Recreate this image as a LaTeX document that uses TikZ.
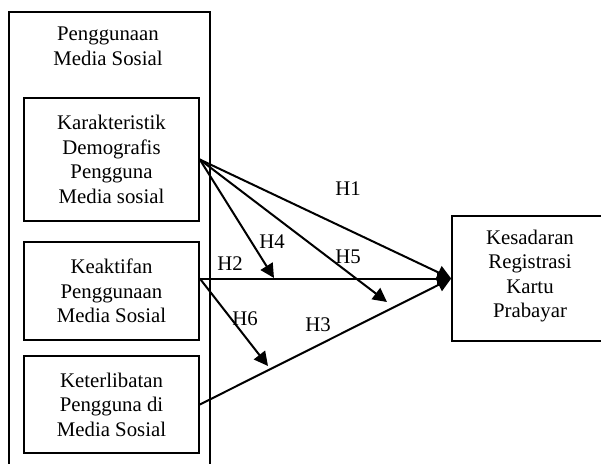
\documentclass[tikz,border=0pt]{standalone}
\usepackage{fontspec}
\setmainfont{Liberation Serif}
\usetikzlibrary{arrows.meta}

\tikzset{
	kotak/.style={draw, line width=0.8pt, align=center, inner sep=0pt},
	panah/.style={line width=1pt, -{Triangle[length=7pt, width=7pt]}},
	garis/.style={line width=1pt}
}

\begin{document}
\begin{tikzpicture}[x=0.5pt, y=-0.5pt]
	\fontsize{10.4}{12.3}\selectfont
	\clip (0, 0) rectangle (601, 463);
	
	% kotak luar
	\node [kotak, minimum width=100.5pt, minimum height=234pt] (luar) at (109.5, 246) {};
	\node [align=center] (judul) at (108, 46) {Penggunaan\\Media Sosial};
	
	\node [kotak, minimum width=87.5pt, minimum height=61.5pt] (k1) at (111.5, 159.5) {Karakteristik\\Demografis\\Pengguna\\Media sosial};
	\node [kotak, minimum width=87.5pt, minimum height=49pt] (k2) at (111.5, 291) {Keaktifan\\Penggunaan\\Media Sosial};
	\node [kotak, minimum width=87.5pt, minimum height=48.5pt] (k3) at (111.5, 404.5) {Keterlibatan\\Pengguna di\\Media Sosial};
	
	% kotak kanan, sisi kanannya di luar gambar
	\node [kotak, minimum width=95pt, minimum height=62.5pt] (ks) at (547, 278.5) {};
	\node [align=center] (kst) at (530, 276) {Kesadaran\\Registrasi\\Kartu\\Prabayar};
	
	\coordinate (k2a) at (k2.east |- ks.west);
	\coordinate (u4) at (274, 278);
	\coordinate (u5) at (387, 302);
	\coordinate (u6) at (268, 366);
	
	\draw [panah] (k1.east) -- (ks.west);
	\draw [panah] (k1.east) -- (u4);
	\draw [panah] (k1.east) -- (u5);
	\draw [panah] (k2a) -- (ks.west);
	\draw [panah] (k2a) -- (u6);
	\draw [panah] (k3.east) -- (ks.west);
	
	\node (h1) at (348, 189) {H1};
	\node (h2) at (230, 264) {H2};
	\node (h3) at (318, 325) {H3};
	\node (h4) at (272, 242) {H4};
	\node (h5) at (348, 257) {H5};
	\node (h6) at (245, 319) {H6};
	
\end{tikzpicture}
\end{document}
